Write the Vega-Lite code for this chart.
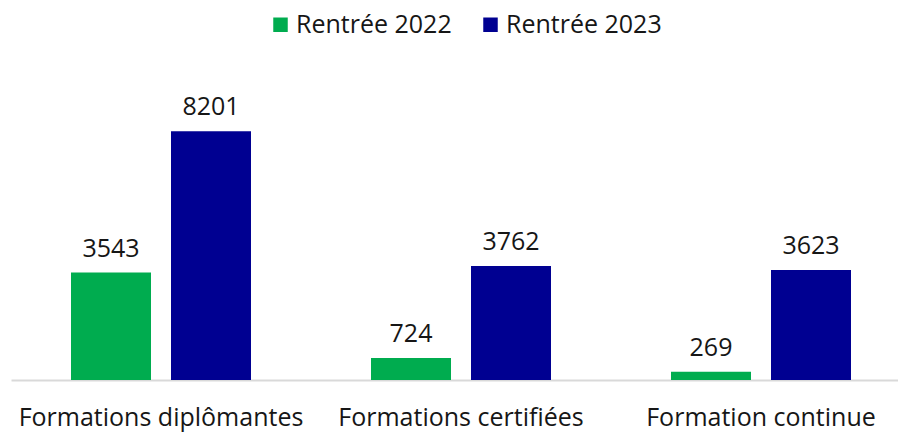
{
  "$schema": "https://vega.github.io/schema/vega-lite/v6.json",
  "width": 900,
  "height": 273,
  "autosize": {"type": "none"},
  "padding": {"left": 11, "top": 107, "right": 0, "bottom": 52},
  "data": {
    "values": [
      {"cat": "Formations diplômantes", "serie": "Rentrée 2022", "val": 3543},
      {"cat": "Formations diplômantes", "serie": "Rentrée 2023", "val": 8201},
      {"cat": "Formations certifiées", "serie": "Rentrée 2022", "val": 724},
      {"cat": "Formations certifiées", "serie": "Rentrée 2023", "val": 3762},
      {"cat": "Formation continue", "serie": "Rentrée 2022", "val": 269},
      {"cat": "Formation continue", "serie": "Rentrée 2023", "val": 3623}
    ]
  },
  "encoding": {
    "x": {
      "field": "cat", "type": "nominal", "sort": null, "title": null,
      "scale": {"paddingInner": 0, "paddingOuter": 0},
      "axis": {"labelAngle": 0, "ticks": false, "domainColor": "#d9d9d9", "domainWidth": 2, "labelFontSize": 25, "labelColor": "#161616", "labelFont": "Open Sans", "labelPadding": 25, "labelLimit": 0}
    },
    "xOffset": {"field": "serie", "type": "nominal", "scale": {"paddingInner": 0.2, "paddingOuter": 0.6}},
    "y": {"field": "val", "type": "quantitative", "scale": {"domain": [0, 9000]}, "axis": null}
  },
  "layer": [
    {
      "mark": {"type": "bar"},
      "encoding": {
        "color": {
          "field": "serie", "type": "nominal", "title": null,
          "scale": {"domain": ["Rentrée 2022", "Rentrée 2023"], "range": ["#00ac4f", "#000091"]},
          "legend": {"orient": "none", "legendX": 257, "legendY": -95, "direction": "horizontal", "symbolType": "square", "symbolSize": 210, "symbolStrokeWidth": 0, "labelFontSize": 25, "labelFont": "Open Sans", "labelColor": "#161616", "labelOffset": 3, "columnPadding": 26, "labelLimit": 0}
        }
      }
    },
    {
      "mark": {"type": "text", "dy": -16, "baseline": "alphabetic", "fontSize": 25, "font": "Open Sans", "color": "#161616"},
      "encoding": {"text": {"field": "val", "type": "quantitative", "format": "d"}}
    }
  ],
  "config": {"view": {"stroke": null}}
}
